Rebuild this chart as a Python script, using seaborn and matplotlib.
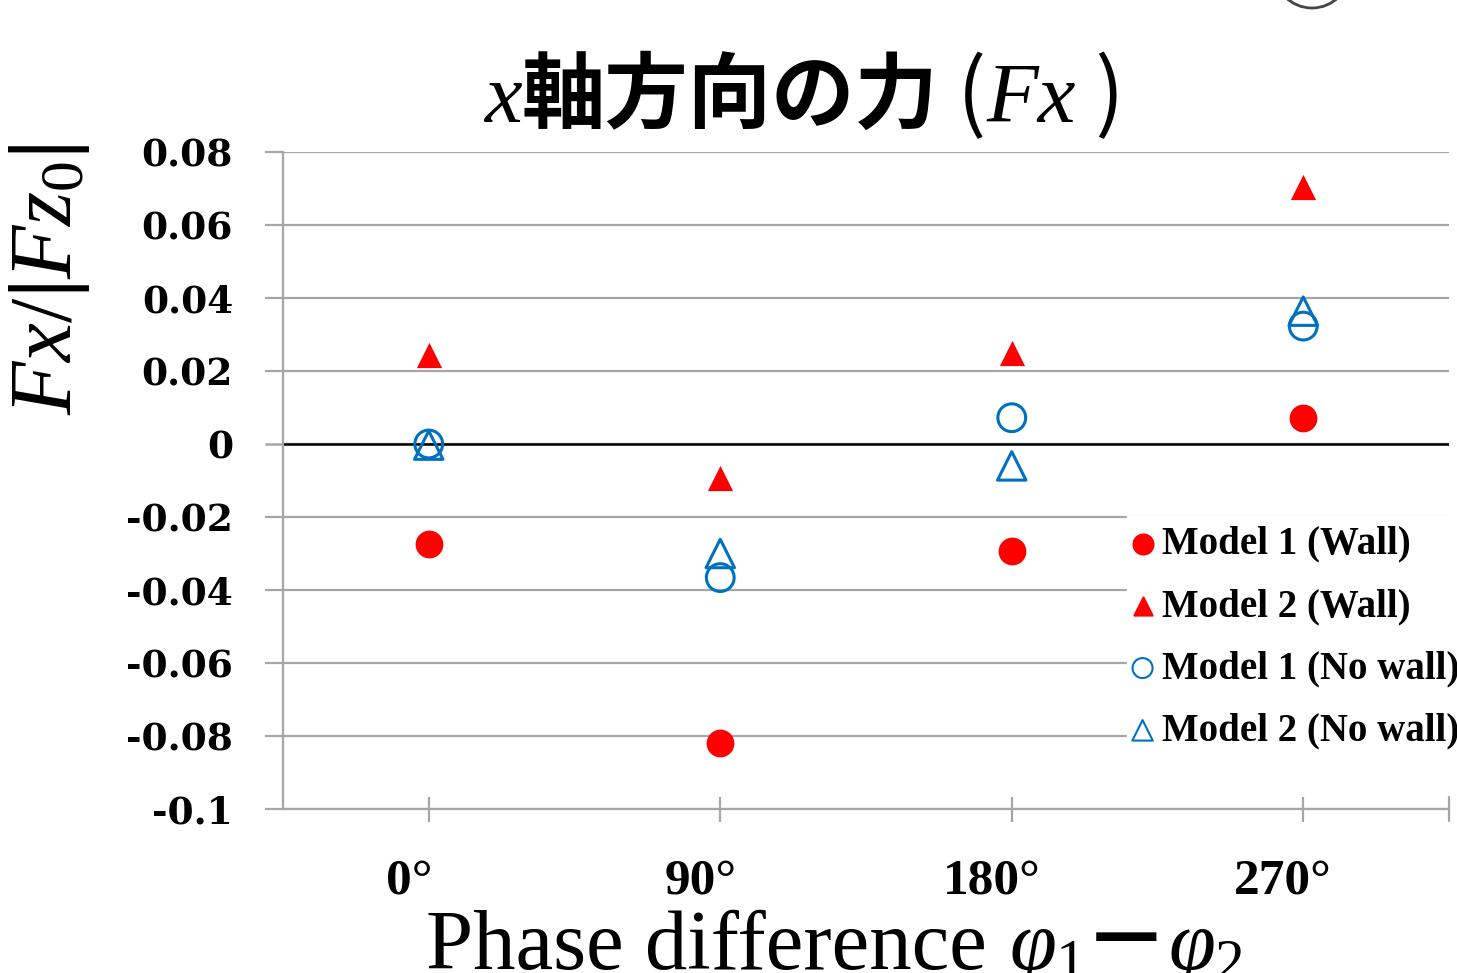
import numpy as np
import pandas as pd
import matplotlib
matplotlib.use("Agg")
import matplotlib.pyplot as plt
import matplotlib.transforms as mtransforms
from matplotlib.patches import Circle
import seaborn as sns

# ---------------- data ----------------
phases = ["0°", "90°", "180°", "270°"]
model1_wall = [-0.0274, -0.0820, -0.0293, 0.0072]
model2_wall = [0.0244, -0.0092, 0.0250, 0.0703]
model1_nowall = [0.0000, -0.0366, 0.0072, 0.0323]
model2_nowall = [-0.0003, -0.0300, -0.0060, 0.0364]
series_names = ["Model 1 (Wall)", "Model 2 (Wall)", "Model 1 (No wall)", "Model 2 (No wall)"]
yticks = [0.08, 0.06, 0.04, 0.02, 0.0, -0.02, -0.04, -0.06, -0.08, -0.1]
ytick_labels = ["0.08", "0.06", "0.04", "0.02", "0", "-0.02", "-0.04", "-0.06", "-0.08", "-0.1"]

df = pd.DataFrame({
    "phase": phases * 4,
    "value": model1_wall + model2_wall + model1_nowall + model2_nowall,
    "series": sum([[n] * 4 for n in series_names], []),
})

sns.set_theme(style="white")
plt.rcParams["text.color"] = "black"
plt.rcParams["xtick.color"] = "black"
plt.rcParams["ytick.color"] = "black"
plt.rcParams["mathtext.fontset"] = "custom"
plt.rcParams["mathtext.rm"] = "Liberation Serif"
plt.rcParams["mathtext.it"] = "Liberation Serif:italic"
plt.rcParams["mathtext.bf"] = "Liberation Serif:bold"

W, H = 1457, 973
fig = plt.figure(figsize=(W / 100, H / 100), dpi=100)
fig.patch.set_facecolor("white")
ax = fig.add_axes([283 / W, 1 - 809 / H, (1449 - 283) / W, (809 - 152) / H])

RED = "#ff0000"
BLUE = "#0070c0"
styles = {
    "Model 1 (Wall)": dict(marker="o", s=400, color=RED, edgecolor=RED, linewidth=0),
    "Model 2 (Wall)": dict(marker="^", s=330, color=RED, edgecolor=RED, linewidth=0),
    "Model 1 (No wall)": dict(marker="o", s=400, color=BLUE, facecolor="none", edgecolor=BLUE, linewidth=2.2),
    "Model 2 (No wall)": dict(marker="^", s=420, color=BLUE, facecolor="none", edgecolor=BLUE, linewidth=2.2),
}
for name in series_names:
    sub = df[df["series"] == name]
    sns.scatterplot(data=sub, x="phase", y="value", ax=ax, label=name, zorder=5, **styles[name])

ax.set_xlim(-0.5, 3.5)
ax.set_ylim(-0.1, 0.08)
ax.set_yticks(yticks)
ax.set_yticklabels(ytick_labels)
ax.set_xticks(range(len(phases)))
ax.set_xticklabels(phases)
ax.set_xlabel("")
ax.set_ylabel("")

GRID = "#a6a6a6"
ax.yaxis.grid(True, color=GRID, linewidth=1.6, zorder=0)
ax.xaxis.grid(False)
ax.axhline(0, color="black", linewidth=1.8, zorder=1)
for side in ["top", "right"]:
    ax.spines[side].set_visible(False)
for side in ["left", "bottom"]:
    ax.spines[side].set_color(GRID)
    ax.spines[side].set_linewidth(1.6)

ax.tick_params(axis="y", left=True, direction="out", length=13, width=1.6, color=GRID, pad=23)
ax.tick_params(axis="x", bottom=True, direction="inout", length=18, width=1.6, color=GRID, pad=27)
for t in ax.yaxis.get_major_ticks():
    if abs(t.get_loc()) < 1e-9:
        t.tick1line.set_color("black")
        t.tick1line.set_markeredgewidth(1.8)
for lab in ax.get_yticklabels():
    lab.set_fontfamily("DejaVu Serif")
    lab.set_fontweight("bold")
    lab.set_fontsize(27)
    lab.set_color("black")
off = mtransforms.ScaledTranslation(-20 / 100, 0, fig.dpi_scale_trans)
for lab in ax.get_xticklabels():
    lab.set_fontfamily("Liberation Serif")
    lab.set_fontweight("bold")
    lab.set_fontsize(37)
    lab.set_color("black")
    lab.set_transform(lab.get_transform() + off)

# extra tick at right end of x axis
ax.plot([1, 1], [-0.0185, 0.0185], transform=ax.transAxes, color=GRID, lw=1.6, clip_on=False)

# legend
leg = ax.legend(loc="upper left", bbox_to_anchor=(1127 / W, 1 - 516 / H), bbox_transform=fig.transFigure,
                frameon=True, fancybox=False, borderpad=0.25, borderaxespad=0, handlelength=0.3,
                handletextpad=0.35, labelspacing=0.65, markerscale=0.72,
                prop={"family": "Liberation Serif", "weight": "bold", "size": 28})
leg.get_frame().set_facecolor("white")
leg.get_frame().set_edgecolor("white")
leg.get_frame().set_alpha(1)
leg.set_zorder(10)
for h in leg.legend_handles:
    h.set_linewidth(1.5)

# chained text helper (baseline aligned pieces)
ident = mtransforms.IdentityTransform()


def chain(pieces, cx_px, base_px):
    texts = [fig.text(0, 0, s, transform=ident, ha="left", va="baseline", color="black", **kw)
             for s, kw in pieces]
    fig.canvas.draw()
    r = fig.canvas.get_renderer()
    widths = [t.get_window_extent(r).width for t in texts]
    x = cx_px - sum(widths) / 2
    for t, w in zip(texts, widths):
        t.set_position((x, H - base_px))
        x += w
    return texts


cjk = dict(family="Noto Sans CJK JP", weight="bold", size=60)
paren = dict(family="Noto Sans CJK JP", size=62)
ser_it = dict(family="Liberation Serif", style="italic", size=61)
chain([("x", ser_it), ("軸方向の力", cjk), (" (", paren),
       ("Fx", ser_it), (" )", paren)], 804, 122)

chain([("Phase difference ", dict(family="Liberation Serif", size=61)),
       (r"$\varphi_1$", dict(size=61)),
       ("－", dict(family="Noto Sans CJK JP", weight="bold", size=61)),
       (r"$\varphi_2$", dict(size=61))], 835, 969)

# y label
fig.text(50 / W, 1 - 279 / H, r"$Fx/\mathbf{|}Fz_0\mathbf{|}$", rotation=90, ha="center", va="center",
         size=63, color="black")

# small cropped artifact at top right
fig.patches.append(Circle((1312, H + 30), 38, transform=ident, fill=False, edgecolor="#444444", lw=2))

fig.savefig("out.png", dpi=100, facecolor="white")
